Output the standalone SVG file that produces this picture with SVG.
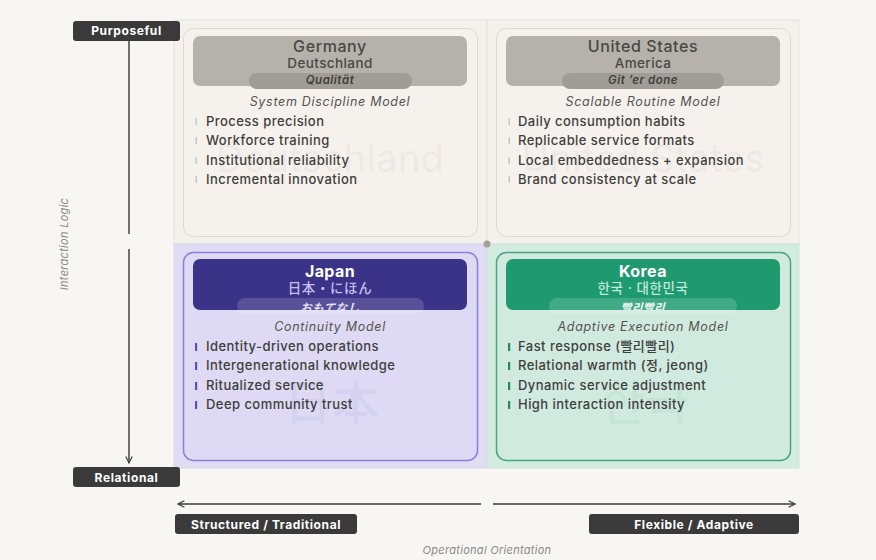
<svg xmlns="http://www.w3.org/2000/svg" width="876" height="560" viewBox="0 0 876 560">
<defs>
<style>
text{font-family:Inter,"Liberation Sans","Noto Sans CJK JP","Noto Sans CJK KR",sans-serif}
.c{text-anchor:middle}
.t{font-size:16px;font-weight:500;fill:#4a4743;letter-spacing:0.6px}
.ts{font-size:13.5px;font-weight:500;fill:#4a4743;letter-spacing:0.4px}
.tw{font-size:16px;font-weight:700;fill:#fff;letter-spacing:0.4px}
.pill{font-size:11.5px;font-style:italic;font-weight:600;letter-spacing:0.5px}
.model{font-size:12.5px;font-style:italic;fill:#555350;letter-spacing:0.7px}
.b{font-size:13px;font-weight:500;fill:#3f3e3c;letter-spacing:0.45px}
.lab{font-size:12px;font-weight:700;fill:#fff;letter-spacing:0.6px}
.ax{font-size:11px;font-style:italic;fill:#8c8a86;letter-spacing:0.3px}
.wm{font-weight:500}
.box{fill:#3a3a3a}
</style>
<marker id="ah" viewBox="0 0 10 10" refX="9" refY="5" markerWidth="8" markerHeight="8" orient="auto-start-reverse" markerUnits="userSpaceOnUse">
<path d="M1,1 L9,5 L1,9" fill="none" stroke="#3a3a3a" stroke-width="1.4"/>
</marker>
<clipPath id="cj"><rect x="193" y="259" width="274" height="51" rx="7"/></clipPath>
<clipPath id="ck"><rect x="506" y="259" width="274" height="51" rx="7"/></clipPath>
</defs>
<rect width="876" height="560" fill="#f7f6f3"/>

<g id="quadrants">
<rect x="174" y="20" width="313" height="224" fill="#f4f1ec" stroke="#e6e3dd"/>
<rect x="487" y="20" width="312" height="224" fill="#f4f1ec" stroke="#e6e3dd"/>
<rect x="174" y="244" width="313" height="224" fill="#e0dcf4" stroke="#d8d3ee"/>
<rect x="487" y="244" width="312" height="224" fill="#d3ece2" stroke="#cbe3d9"/>
</g>

<g id="germany">
<rect x="183.5" y="28.5" width="294" height="208" rx="10" fill="#f5f2ed" stroke="#dcd8d1"/>
<text class="c wm" x="330" y="172" font-size="38" fill="#000" fill-opacity="0.035">Deutschland</text>
<rect x="193" y="36" width="274" height="50" rx="7" fill="#b5b2ab"/>
<rect x="249" y="73" width="163" height="16" rx="8" fill="#a09d97"/>
<text class="c t" x="330" y="52">Germany</text>
<text class="c ts" x="330" y="68">Deutschland</text>
<text class="c pill" x="330" y="84" fill="#3f3d3a">Qualität</text>
<text class="c model" x="330" y="106">System Discipline Model</text>
<g fill="#c9c6c0"><rect x="195.5" y="118" width="1.5" height="7"/><rect x="195.5" y="137" width="1.5" height="7"/><rect x="195.5" y="157" width="1.5" height="7"/><rect x="195.5" y="176" width="1.5" height="7"/></g>
<text class="b" x="206" y="126">Process precision</text>
<text class="b" x="206" y="145">Workforce training</text>
<text class="b" x="206" y="165">Institutional reliability</text>
<text class="b" x="206" y="184">Incremental innovation</text>
</g>

<g id="united-states">
<rect x="496.5" y="28.5" width="294" height="208" rx="10" fill="#f5f2ed" stroke="#dcd8d1"/>
<text class="c wm" x="643" y="172" font-size="38" fill="#000" fill-opacity="0.035">United States</text>
<rect x="506" y="36" width="274" height="50" rx="7" fill="#b5b2ab"/>
<rect x="562" y="73" width="162" height="16" rx="8" fill="#a09d97"/>
<text class="c t" x="643" y="52">United States</text>
<text class="c ts" x="643" y="68">America</text>
<text class="c pill" x="643" y="84" fill="#3f3d3a">Git ’er done</text>
<text class="c model" x="643" y="106">Scalable Routine Model</text>
<g fill="#c9c6c0"><rect x="508.5" y="118" width="1.5" height="7"/><rect x="508.5" y="137" width="1.5" height="7"/><rect x="508.5" y="157" width="1.5" height="7"/><rect x="508.5" y="176" width="1.5" height="7"/></g>
<text class="b" x="518" y="126">Daily consumption habits</text>
<text class="b" x="518" y="145">Replicable service formats</text>
<text class="b" x="518" y="165">Local embeddedness + expansion</text>
<text class="b" x="518" y="184">Brand consistency at scale</text>
</g>

<g id="japan">
<rect x="183.5" y="252.5" width="294" height="208" rx="10" fill="#dedaf3" stroke="#8a80dc" stroke-width="1.5"/>
<text class="c wm" x="332" y="420" font-size="48" fill="#5b50c8" fill-opacity="0.07">日本</text>
<rect x="193" y="259" width="274" height="51" rx="7" fill="#3b3388"/>
<rect x="237" y="298" width="187" height="16" rx="8" fill="#fff" fill-opacity="0.15"/>
<text class="c tw" x="330" y="277">Japan</text>
<text class="c" x="330" y="293" font-size="13.5" font-weight="500" fill="#c4bfee" letter-spacing="0.6">日本・にほん</text>
<text class="c pill" x="330" y="311.5" fill="#e4e1f8" clip-path="url(#cj)">おもてなし</text>
<text class="c model" x="330" y="331">Continuity Model</text>
<g fill="#5a4fc6"><rect x="195" y="343" width="2.2" height="8"/><rect x="195" y="362" width="2.2" height="8"/><rect x="195" y="382" width="2.2" height="8"/><rect x="195" y="401" width="2.2" height="8"/></g>
<text class="b" x="206" y="351">Identity-driven operations</text>
<text class="b" x="206" y="370">Intergenerational knowledge</text>
<text class="b" x="206" y="390">Ritualized service</text>
<text class="b" x="206" y="409">Deep community trust</text>
</g>

<g id="korea">
<rect x="496.5" y="252.5" width="294" height="208" rx="10" fill="#d1eae0" stroke="#4aa382" stroke-width="1.5"/>
<text class="c wm" x="645" y="420" font-size="48" fill="#2a9a70" fill-opacity="0.07">한국</text>
<rect x="506" y="259" width="274" height="51" rx="7" fill="#1f9a70"/>
<rect x="549" y="298" width="188" height="16" rx="8" fill="#fff" fill-opacity="0.15"/>
<text class="c tw" x="643" y="277">Korea</text>
<text class="c" x="643" y="293" font-size="13.5" font-weight="500" fill="#c0e8d8" letter-spacing="0.6">한국 · 대한민국</text>
<text class="c pill" x="643" y="311.5" fill="#eaf7f1" clip-path="url(#ck)">빨리빨리</text>
<text class="c model" x="643" y="331">Adaptive Execution Model</text>
<g fill="#2a8663"><rect x="508" y="343" width="2.2" height="8"/><rect x="508" y="362" width="2.2" height="8"/><rect x="508" y="382" width="2.2" height="8"/><rect x="508" y="401" width="2.2" height="8"/></g>
<text class="b" x="518" y="351">Fast response (빨리빨리)</text>
<text class="b" x="518" y="370">Relational warmth (정, jeong)</text>
<text class="b" x="518" y="390">Dynamic service adjustment</text>
<text class="b" x="518" y="409">High interaction intensity</text>
</g>

<g id="center-dot"><circle cx="487" cy="244" r="3.5" fill="#a3a19c"/></g>

<g id="connectors" stroke="#3a3a3a" stroke-width="1.4" fill="none">
<line x1="129" y1="41" x2="129" y2="234"/>
<line x1="129" y1="249" x2="129" y2="463" marker-end="url(#ah)"/>
<line x1="178" y1="504" x2="481" y2="504" marker-start="url(#ah)"/>
<line x1="493" y1="504" x2="795" y2="504" marker-end="url(#ah)"/>
</g>

<g id="axis-purposeful"><rect class="box" x="73" y="21" width="107" height="20" rx="3"/><text class="c lab" x="126.5" y="35">Purposeful</text></g>
<g id="axis-relational"><rect class="box" x="73" y="467" width="107" height="20" rx="3"/><text class="c lab" x="126.5" y="481.5">Relational</text></g>
<g id="axis-structured"><rect class="box" x="175" y="514" width="182" height="20" rx="3"/><text class="c lab" x="266" y="528.5">Structured / Traditional</text></g>
<g id="axis-flexible"><rect class="box" x="589" y="514" width="210" height="20" rx="3"/><text class="c lab" x="694" y="528.5">Flexible / Adaptive</text></g>
<text class="c ax" x="68" y="244" transform="rotate(-90 68 244)">Interaction Logic</text>
<text class="c ax" x="487" y="554">Operational Orientation</text>
</svg>
